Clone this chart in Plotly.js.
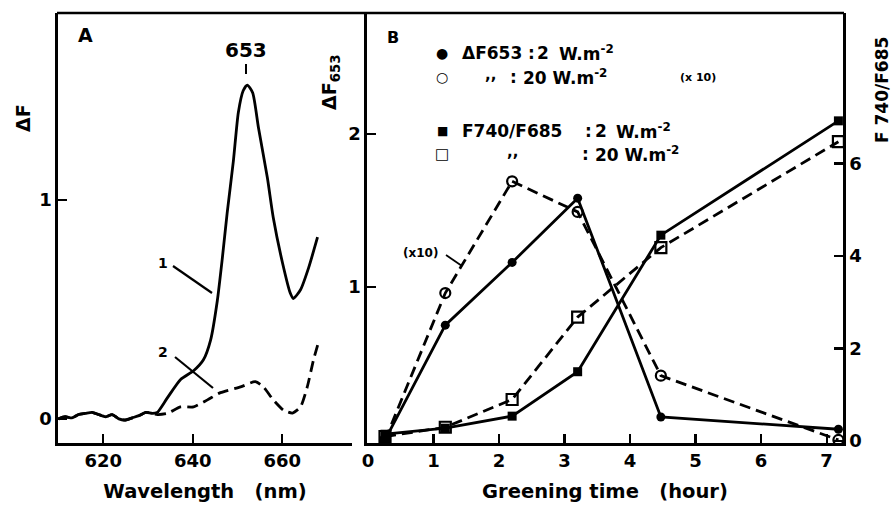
<!DOCTYPE html>
<html>
<head>
<meta charset="utf-8">
<script src="https://cdn.plot.ly/plotly-3.0.1.min.js"></script>
<style>html,body{margin:0;padding:0;background:#fff;}#chart{width:896px;height:506px;}</style>
</head>
<body>
<div id="chart"></div>
<script>
// ---------- Panel A: difference fluorescence spectra ----------
const wl1 = [610,611.5,613,614.5,616,617.5,619,620.5,622,623.5,625,626.5,628,629.5,631,632.1,634.3,637.3,640.2,642.4,644.0,645.5,646.6,647.7,649.1,650.2,651.3,652.2,653.4,654.7,656.7,658.0,660.1,661.8,662.5,664.1,665.9,667.9];
const dF1 = [0.0,0.01,0.005,0.02,0.025,0.03,0.02,0.01,0.02,0.0,-0.005,0.005,0.015,0.03,0.025,0.03,0.095,0.18,0.22,0.27,0.36,0.54,0.73,0.94,1.18,1.40,1.50,1.525,1.49,1.33,1.10,0.92,0.71,0.575,0.55,0.59,0.69,0.83];
const wl2 = [610,611.5,613,614.5,616,617.5,619,620.5,622,623.5,625,626.5,628,629.5,631,632.1,634.3,637.3,640.2,643.3,646.2,650.7,654.0,655.8,658.0,660.3,662.3,664.1,665.6,667.0,668.1];
const dF2 = [0.0,0.01,0.005,0.02,0.025,0.03,0.02,0.01,0.02,0.0,-0.005,0.005,0.015,0.03,0.025,0.02,0.025,0.055,0.055,0.087,0.12,0.146,0.17,0.146,0.087,0.04,0.027,0.055,0.146,0.27,0.35];
const xTicksA = [620,640,660];
const yTicksA = [0,1];

// ---------- Panel B: greening time course ----------
const timeH = [0.26,1.18,2.2,3.2,4.47,7.18];
const dF653_2W = [0.0,0.75,1.16,1.58,0.15,0.07];
const dF653_20W = [0.0,0.96,1.69,1.49,0.42,0.0];
const ratio_2W = [0.15,0.28,0.54,1.5,4.45,6.92];
const ratio_20W = [0.1,0.3,0.9,2.68,4.18,6.47];
const xTicksB = [0,1,2,3,4,5,6,7];
const yTicksBL = [1,2];
const yTicksBR = [0,2,4,6];

const FONT = "DejaVu Sans, Liberation Sans, Arial, sans-serif";
const W = 896, H = 506;
const px = x => x / W, py = y => 1 - y / H;

const traces = [
  {x: wl1, y: dF1, xaxis:'x', yaxis:'y', mode:'lines', line:{color:'#000', width:2.8, shape:'spline', smoothing:0.6}, showlegend:false},
  {x: wl2, y: dF2, xaxis:'x', yaxis:'y', mode:'lines', line:{color:'#000', width:2.8, dash:'11px,6px', shape:'spline', smoothing:0.6}, showlegend:false},
  {x: timeH, y: dF653_2W, xaxis:'x2', yaxis:'y2', mode:'lines+markers', line:{color:'#000', width:2.8}, marker:{symbol:'circle', size:9, color:'#000'}, showlegend:false},
  {x: timeH, y: dF653_20W, xaxis:'x2', yaxis:'y2', mode:'lines+markers', line:{color:'#000', width:2.8, dash:'11px,6px'}, marker:{symbol:'circle-open', size:10, color:'#000', line:{width:2.2}}, showlegend:false},
  {x: timeH, y: ratio_2W, xaxis:'x2', yaxis:'y3', mode:'lines+markers', line:{color:'#000', width:2.8}, marker:{symbol:'square', size:9, color:'#000'}, showlegend:false},
  {x: timeH, y: ratio_20W, xaxis:'x2', yaxis:'y3', mode:'lines+markers', line:{color:'#000', width:2.8, dash:'11px,6px'}, marker:{symbol:'square-open', size:11, color:'#000', line:{width:2.2}}, showlegend:false}
];

const axBase = {showline:true, linecolor:'#000', linewidth:2.6, ticks:'inside', ticklen:9, tickwidth:2.2, tickcolor:'#000', showgrid:false, zeroline:false, tickfont:{family:FONT, size:18, color:'#000', weight:'bold'}, fixedrange:true};
const titleFont = {family:FONT, size:19.5, color:'#000', weight:'bold'};

function ann(text, x, y, size, opts) {
  return Object.assign({text:text, xref:'paper', yref:'paper', x:px(x), y:py(y), showarrow:false, xanchor:'left', yanchor:'middle', font:{family:FONT, size:size, color:'#000', weight:'bold'}}, opts || {});
}
const C = {xanchor:'center'};

const annotations = [
  ann('A', 85, 35, 19, C),
  ann('B', 393, 37, 16, C),
  ann('653', 246, 50, 20, C),
  ann('ΔF', 23, 118, 19, {xanchor:'center', textangle:-90}),
  ann('ΔF<sub>653</sub>', 331, 83, 19, {xanchor:'center', textangle:-90}),
  ann('F 740/F685', 882, 90, 17, {xanchor:'center', textangle:-90}),
  // curve labels in panel A
  ann('1', 163, 263, 14, C),
  ann('2', 163, 352, 14, C),
  ann('(x10)', 420, 253, 12, C),
  // legend rows
  ann('●', 442, 53, 14, C),
  ann('ΔF653', 460, 53, 17),
  ann(':', 531, 53, 17, C),
  ann('2', 543, 53, 17, C),
  ann('W.m<sup>-2</sup>', 557, 53, 17),
  ann('○', 442, 77, 14, C),
  ann(',,', 490, 75, 15, C),
  ann(':', 513, 77, 17, C),
  ann('20 W.m<sup>-2</sup>', 521, 77, 17),
  ann('(x 10)', 678, 77, 11),
  ann('■', 442, 131, 12, C),
  ann('F740/F685', 460, 131, 17),
  ann(':', 588, 131, 17, C),
  ann('2', 601, 131, 17, C),
  ann('W.m<sup>-2</sup>', 614, 131, 17),
  ann('□', 442, 154, 15, C),
  ann(',,', 512, 152, 15, C),
  ann(':', 585, 154, 17, C),
  ann('20 W.m<sup>-2</sup>', 593, 154, 17)
];

const shapes = [
  {type:'line', xref:'paper', yref:'paper', x0:px(57), x1:px(844), y0:py(13), y1:py(13), line:{color:'#000', width:2.6}},
  {type:'line', xref:'paper', yref:'paper', x0:px(246), x1:px(246), y0:py(64), y1:py(74), line:{color:'#000', width:2}},
  {type:'line', xref:'paper', yref:'paper', x0:px(173), x1:px(212), y0:py(266), y1:py(293), line:{color:'#000', width:2.2}},
  {type:'line', xref:'paper', yref:'paper', x0:px(175), x1:px(213), y0:py(357), y1:py(388), line:{color:'#000', width:2.2}},
  {type:'line', xref:'paper', yref:'paper', x0:px(446), x1:px(462), y0:py(255), y1:py(266), line:{color:'#000', width:1.8}}
];

const layout = {
  width: W, height: H,
  margin: {l:0, r:0, t:0, b:0},
  paper_bgcolor:'#fff', plot_bgcolor:'rgba(0,0,0,0)',
  showlegend:false,
  xaxis: Object.assign({}, axBase, {domain:[px(58), px(352)], range:[609.9, 675.6], tickvals:xTicksA, anchor:'y',
    title:{text:'Wavelength   (nm)', font:titleFont, standoff:14}}),
  yaxis: Object.assign({}, axBase, {domain:[1-443/H, 1-13/H], range:[-0.11, 1.854], tickvals:yTicksA, anchor:'x'}),
  xaxis2: Object.assign({}, axBase, {domain:[px(367), px(843)], range:[-0.015, 7.25], tickvals:xTicksB, anchor:'y2',
    title:{text:'Greening time   (hour)', font:titleFont, standoff:14}}),
  yaxis2: Object.assign({}, axBase, {domain:[1-443/H, 1-13/H], range:[-0.02, 2.79], tickvals:yTicksBL, anchor:'x2'}),
  yaxis3: Object.assign({}, axBase, {domain:[1-443/H, 1-13/H], range:[-0.04, 9.25], tickvals:yTicksBR, anchor:'x2', overlaying:'y2', side:'right'}),
  annotations: annotations,
  shapes: shapes
};

Plotly.newPlot('chart', traces, layout, {displayModeBar:false, staticPlot:true});
</script>
</body>
</html>
